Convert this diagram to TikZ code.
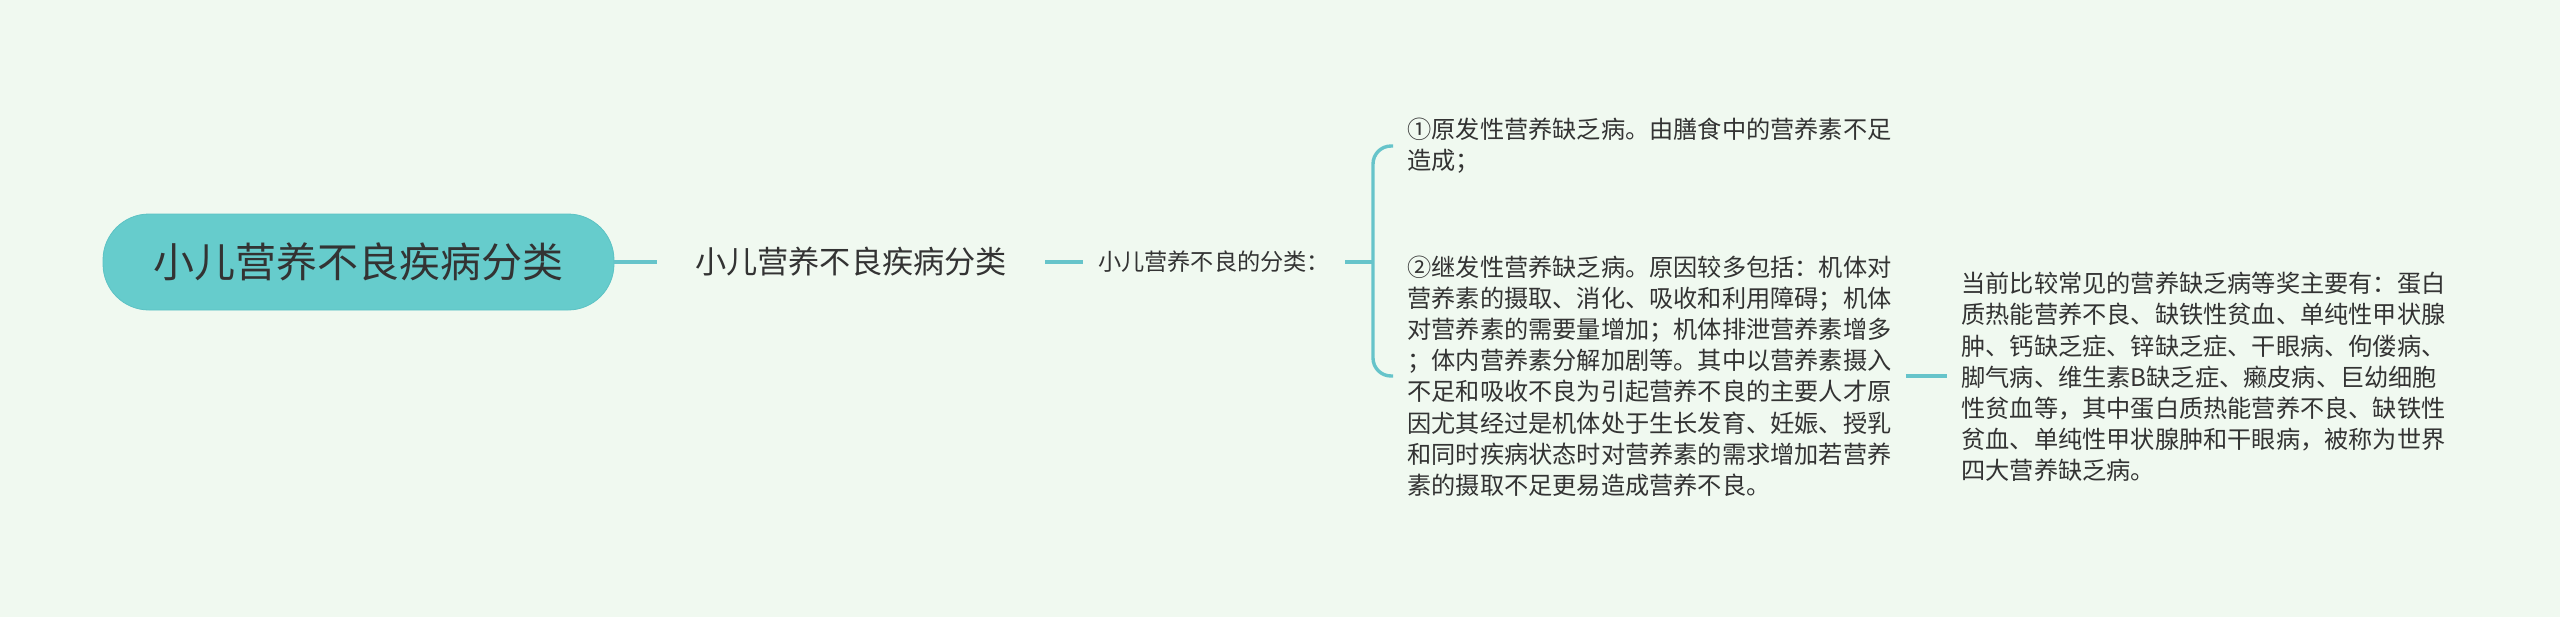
\documentclass[tikz,border=0pt]{standalone}
\usepackage{fontspec}
\newfontfamily\cjk{Noto Sans CJK SC}
\usetikzlibrary{positioning}
\definecolor{cfondo}{HTML}{F0F9F0}
\definecolor{craiz}{HTML}{66CCCC}
\definecolor{craizb}{HTML}{5CC2C4}
\definecolor{crama}{HTML}{66C4CA}
\definecolor{ctexto}{HTML}{333333}
\tikzset{
  raiz/.style={draw=craizb,fill=craiz,rounded corners=23pt,text=ctexto,inner sep=0pt,
               font=\cjk\fontsize{20.5pt}{24pt}\selectfont,
               minimum width=255.5pt,minimum height=48pt},
  rama/.style={text=ctexto,inner ysep=0pt,font=\cjk\fontsize{15.6pt}{19pt}\selectfont},
  ramac/.style={rama,font=\cjk\fontsize{11.6pt}{15pt}\selectfont},
  hoja/.style={text=ctexto,inner ysep=0pt,inner xsep=7pt,align=left,anchor=west,
               font=\cjk\fontsize{12.1pt}{15.6pt}\selectfont},
  enlace/.style={draw=crama,line width=1.7pt},
}
\begin{document}
\begin{tikzpicture}[x=0.5pt,y=-0.5pt]

\fill[cfondo] (0,0) rectangle (2560,617);

\node[raiz] (raiz) at (358.5,262) {小儿营养不良疾病分类};
\node[rama,inner xsep=19pt] (tema) at (851,262) {小儿营养不良疾病分类};
\node[ramac,inner xsep=7.5pt] (clase) at (1214,262) {小儿营养不良的分类：};
\coordinate (llave) at (1373,262);

\node[hoja] (prim) at (1393,146) {①原发性营养缺乏病。由膳食中的营养素不足\\造成；};
\node[hoja] (sec) at (1393,376) {②继发性营养缺乏病。原因较多包括：机体对\\营养素的摄取、消化、吸收和利用障碍；机体\\对营养素的需要量增加；机体排泄营养素增多\\；体内营养素分解加剧等。其中以营养素摄入\\不足和吸收不良为引起营养不良的主要人才原\\因尤其经过是机体处于生长发育、妊娠、授乳\\和同时疾病状态时对营养素的需求增加若营养\\素的摄取不足更易造成营养不良。};
\node[hoja] (comun) at (1947,377) {当前比较常见的营养缺乏病等奖主要有：蛋白\\质热能营养不良、缺铁性贫血、单纯性甲状腺\\肿、钙缺乏症、锌缺乏症、干眼病、佝偻病、\\脚气病、维生素B缺乏症、癞皮病、巨幼细胞\\性贫血等，其中蛋白质热能营养不良、缺铁性\\贫血、单纯性甲状腺肿和干眼病，被称为世界\\四大营养缺乏病。};

\draw[enlace] (raiz) -- (tema);
\draw[enlace] (tema) -- (clase);
\draw[enlace] (clase.east) -- (llave);
\draw[enlace,rounded corners=9pt] (prim.west) -| (llave) |- (sec.west);
\draw[enlace] (sec.east) -- (sec.east -| comun.west);

\end{tikzpicture}
\end{document}
